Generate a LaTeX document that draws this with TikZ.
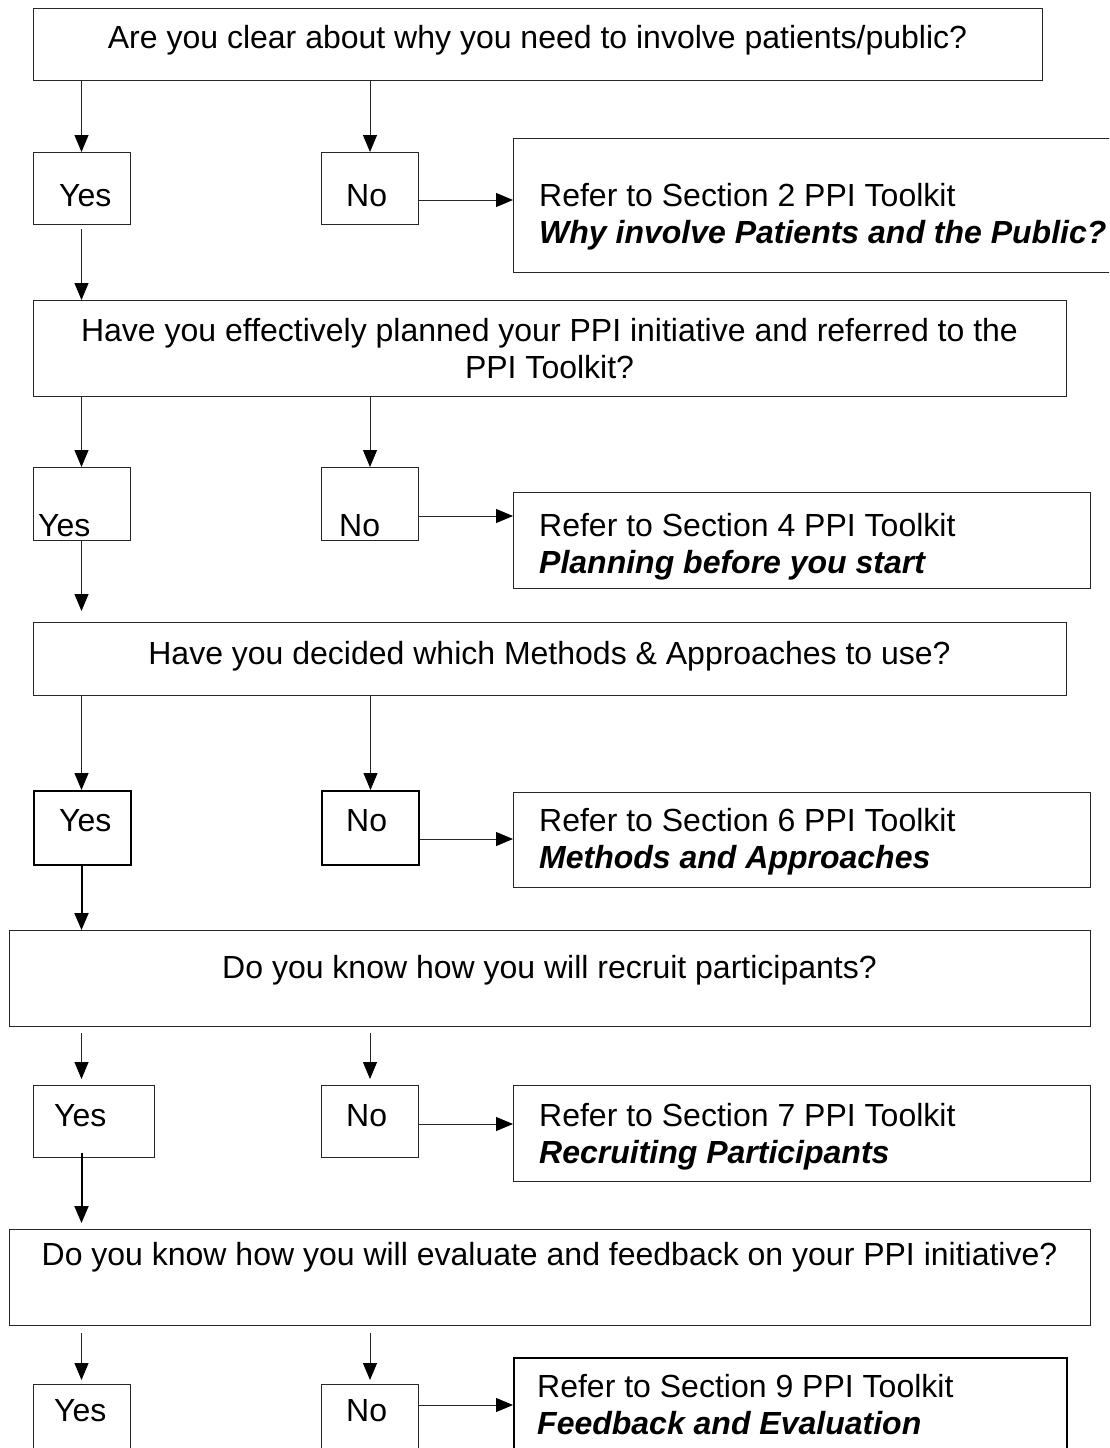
\documentclass[tikz,border=0pt]{standalone}
\usepackage{fontspec}
\setmainfont{Liberation Sans}
\usetikzlibrary{arrows.meta}
\begin{document}
\begin{tikzpicture}[x=1pt,y=-1pt,
  box/.style={draw=black!85, line width=1pt, inner sep=0pt, anchor=north west},
  thickbox/.style={box, draw=black, line width=2pt},
  txt/.style={inner sep=0pt, anchor=base west, font=\fontsize{32}{37}\selectfont},
  ctxt/.style={txt, anchor=base},
  bitxt/.style={txt, font=\fontsize{32}{37}\selectfont\bfseries\itshape},
  arr/.style={draw=black!85, line width=1pt, -{Triangle[width=14pt,length=17pt,color=black]}},
  thickarr/.style={arr, draw=black, line width=2pt}]
\useasboundingbox (0,0) rectangle (1109,1448);
\clip (0,0) rectangle (1109,1448);
\coordinate (colY) at (81.5,0);
% boxes
\node[box, minimum width=1009pt, minimum height=72pt] (q1) at (33,8) {};
\node[box, minimum width=97pt, minimum height=72pt] (y1) at (33,152) {};
\node[box, minimum width=97pt, minimum height=72pt] (n1) at (321,152) {};
\node[box, minimum width=700pt, minimum height=134pt] (r1) at (513,138) {};
\node[box, minimum width=1033pt, minimum height=96pt] (q2) at (33,300) {};
\node[box, minimum width=97pt, minimum height=73pt] (y2) at (33,467) {};
\node[box, minimum width=97pt, minimum height=73pt] (n2) at (321,467) {};
\node[box, minimum width=577pt, minimum height=96pt] (r2) at (513,492) {};
\node[box, minimum width=1033pt, minimum height=73pt] (q3) at (33,622) {};
\node[thickbox, minimum width=97pt, minimum height=74pt] (y3) at (33,790) {};
\node[thickbox, minimum width=97pt, minimum height=74pt] (n3) at (321,790) {};
\node[box, minimum width=577pt, minimum height=95pt] (r3) at (513,792) {};
\node[box, minimum width=1081pt, minimum height=96pt] (q4) at (9,930) {};
\node[box, minimum width=121pt, minimum height=72pt] (y4) at (33,1085) {};
\node[box, minimum width=97pt, minimum height=72pt] (n4) at (321,1085) {};
\node[box, minimum width=577pt, minimum height=96pt] (r4) at (513,1085) {};
\node[box, minimum width=1081pt, minimum height=96pt] (q5) at (9,1229) {};
\node[box, minimum width=97pt, minimum height=100pt] (y5) at (33,1384) {};
\node[box, minimum width=97pt, minimum height=100pt] (n5) at (321,1384) {};
\node[thickbox, minimum width=553pt, minimum height=130pt] (r5) at (513,1357) {};
% texts
\node[ctxt] (t1) at (537.5,48.5) {Are you clear about why you need to involve patients/public?};
\node[txt] (ty1) at (59,206.5) {Yes};
\node[txt] (tn1) at (346,206.5) {No};
\node[txt] (r1a) at (539,206.5) {Refer to Section 2 PPI Toolkit};
\node[bitxt] (r1b) at (539,243.5) {Why involve Patients and the Public?};
\node[ctxt] (t2a) at (549.5,341.5) {Have you effectively planned your PPI initiative and referred to the};
\node[ctxt] (t2b) at (549.5,378.5) {PPI Toolkit?};
\node[txt] (ty2) at (38,536.5) {Yes};
\node[txt] (tn2) at (339,536.5) {No};
\node[txt] (r2a) at (539,536.5) {Refer to Section 4 PPI Toolkit};
\node[bitxt] (r2b) at (539,573.5) {Planning before you start};
\node[ctxt] (t3) at (549.5,664.5) {Have you decided which Methods \& Approaches to use?};
\node[txt] (ty3) at (59,831.5) {Yes};
\node[txt] (tn3) at (346,831.5) {No};
\node[txt] (r3a) at (539,831.5) {Refer to Section 6 PPI Toolkit};
\node[bitxt] (r3b) at (539,868.5) {Methods and Approaches};
\node[ctxt] (t4) at (549.5,978.5) {Do you know how you will recruit participants?};
\node[txt] (ty4) at (54,1126.5) {Yes};
\node[txt] (tn4) at (346,1126.5) {No};
\node[txt] (r4a) at (539,1126.5) {Refer to Section 7 PPI Toolkit};
\node[bitxt] (r4b) at (539,1163.5) {Recruiting Participants};
\node[ctxt] (t5) at (549.5,1265.5) {Do you know how you will evaluate and feedback on your PPI initiative?};
\node[txt] (ty5) at (54,1421.5) {Yes};
\node[txt] (tn5) at (346,1421.5) {No};
\node[txt] (r5a) at (537,1397.5) {Refer to Section 9 PPI Toolkit};
\node[bitxt] (r5b) at (537,1434.5) {Feedback and Evaluation};
% connectors
\draw[arr] (q1.south -| colY) -- (y1.north -| colY);
\draw[arr] (q1.south -| n1.north) -- (n1.north);
\draw[arr] ([yshift=-48pt]n1.north east) -- ([yshift=-48pt]n1.north east -| r1.west);
\draw[arr, shorten <=4pt] (y1.south -| colY) -- (q2.north -| colY);
\draw[arr] (q2.south -| colY) -- (y2.north -| colY);
\draw[arr] (q2.south -| n2.north) -- (n2.north);
\draw[arr] ([yshift=-49pt]n2.north east) -- ([yshift=-49pt]n2.north east -| r2.west);
\draw[arr, shorten >=11pt] (y2.south -| colY) -- (q3.north -| colY);
\draw[arr] (q3.south -| colY) -- (y3.north -| colY);
\draw[arr] (q3.south -| n3.north) -- (n3.north);
\draw[arr] ([yshift=-49pt]n3.north east) -- ([yshift=-49pt]n3.north east -| r3.west);
\draw[thickarr] (y3.south -| colY) -- (q4.north -| colY);
\draw[arr, shorten <=6pt, shorten >=6pt] (q4.south -| colY) -- (y4.north -| colY);
\draw[arr, shorten <=6pt, shorten >=6pt] (q4.south -| n4.north) -- (n4.north);
\draw[arr] ([yshift=-39pt]n4.north east) -- ([yshift=-39pt]n4.north east -| r4.west);
\draw[thickarr, shorten >=6pt] ([yshift=5pt]y4.south -| colY) -- (q5.north -| colY);
\draw[arr, shorten <=7pt, shorten >=4pt] (q5.south -| colY) -- (y5.north -| colY);
\draw[arr, shorten <=7pt, shorten >=4pt] (q5.south -| n5.north) -- (n5.north);
\draw[arr] ([yshift=-21pt]n5.north east) -- ([yshift=-21pt]n5.north east -| r5.west);
\end{tikzpicture}
\end{document}
